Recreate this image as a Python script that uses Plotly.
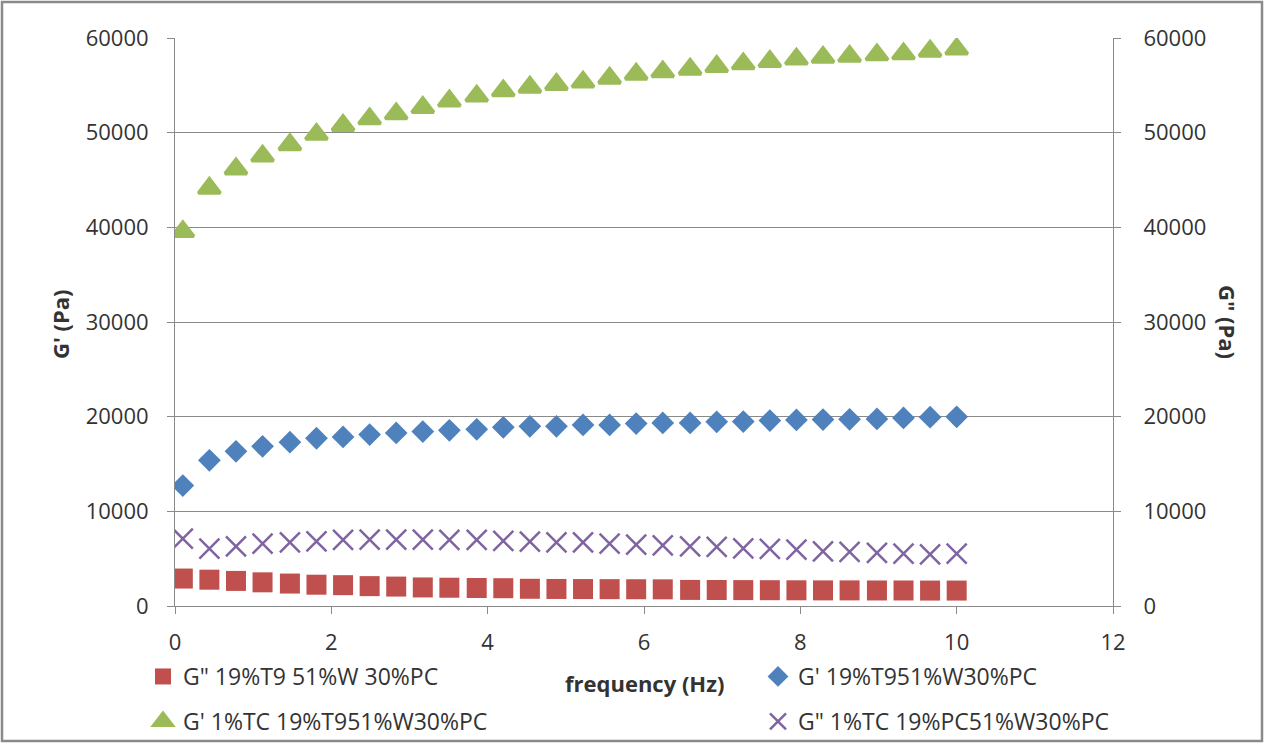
import plotly.graph_objects as go

# frequency (Hz)
freq = [0.1, 0.44, 0.78, 1.12, 1.47, 1.81, 2.15, 2.49, 2.83, 3.17,
        3.51, 3.86, 4.2, 4.54, 4.88, 5.22, 5.56, 5.9, 6.24, 6.59,
        6.93, 7.27, 7.61, 7.95, 8.29, 8.63, 8.98, 9.32, 9.66, 10.0]

# G'' 19%T9 51%W 30%PC (Pa)
g2_t9 = [2900, 2780, 2650, 2500, 2370, 2250, 2200, 2100, 2050, 1960,
         1930, 1900, 1880, 1820, 1800, 1790, 1780, 1770, 1760, 1700,
         1690, 1680, 1670, 1660, 1650, 1650, 1640, 1640, 1630, 1630]

# G' 19%T951%W30%PC (Pa)
g1_t9 = [12720, 15390, 16340, 16870, 17300, 17720, 17860, 18110, 18280, 18420,
         18560, 18670, 18880, 18980, 18980, 19130, 19130, 19270, 19340, 19340,
         19450, 19480, 19590, 19660, 19690, 19720, 19760, 19870, 19940, 19980]

# G' 1%TC 19%T951%W30%PC (Pa)
g1_tc = [39550, 44130, 46170, 47530, 48730, 49820, 50770, 51460, 51990, 52660,
         53350, 53870, 54420, 54810, 55100, 55340, 55760, 56180, 56430, 56710,
         56990, 57270, 57520, 57770, 57960, 58060, 58220, 58330, 58610, 58840]

# G'' 1%TC 19%PC51%W30%PC (Pa)
g2_tc = [7110, 6060, 6300, 6590, 6720, 6830, 6980, 7010, 7010, 7010,
         6980, 6980, 6870, 6800, 6720, 6720, 6590, 6480, 6410, 6300,
         6240, 6090, 6030, 5950, 5770, 5710, 5600, 5530, 5450, 5530]

x_ticks = [0, 2, 4, 6, 8, 10, 12]
y_ticks = [0, 10000, 20000, 30000, 40000, 50000, 60000]

W, H = 1264, 743
L, R, T, B = 175, 151, 38, 137
PW, PH = W - L - R, H - T - B

FONT = "Open Sans"
TXT = "#333333"
GRID = "#8a8a8a"

fig = go.Figure()
fig.add_trace(go.Scatter(
    x=freq, y=g2_t9, mode="markers", name='G" 19%T9 51%W 30%PC',
    marker=dict(symbol="square", size=20, color="#C0504D"),
    yaxis="y2", legend="legend", legendgroup="a"))
fig.add_trace(go.Scatter(
    x=freq, y=g1_t9, mode="markers", name="G' 19%T951%W30%PC",
    marker=dict(symbol="diamond", size=17.5, color="#4F81BD"),
    legend="legend2", legendgroup="b"))
fig.add_trace(go.Scatter(
    x=freq, y=g1_tc, mode="markers", name="G' 1%TC 19%T951%W30%PC",
    marker=dict(symbol="triangle-up", size=19, color="#9BBB59",
                line=dict(color="#9BBB59", width=3.5)),
    legend="legend", legendgroup="c"))
fig.add_trace(go.Scatter(
    x=freq, y=g2_tc, mode="markers", name='G" 1%TC 19%PC51%W30%PC',
    marker=dict(symbol="x-thin", size=20, color="#8064A2",
                line=dict(color="#8064A2", width=2.5)),
    yaxis="y2", legend="legend2", legendgroup="d"))

axis_common = dict(
    showline=True, linecolor=GRID, linewidth=1,
    ticks="outside", ticklen=7, tickcolor=GRID, tickwidth=1,
    tickfont=dict(family=FONT, size=22, color=TXT),
    zeroline=False,
)

fig.update_layout(
    width=W, height=H,
    margin=dict(l=L, r=R, t=T, b=B, autoexpand=False),
    paper_bgcolor="white", plot_bgcolor="white",
    font=dict(family=FONT, color=TXT),
    xaxis=dict(range=[0, 12], tickvals=x_ticks, showgrid=False,
               ticklabelstandoff=10, **axis_common),
    yaxis=dict(range=[0, 60000], tickvals=y_ticks, tickformat="d",
               showgrid=True, gridcolor=GRID, gridwidth=1,
               ticklabelstandoff=14, **axis_common),
    yaxis2=dict(range=[0, 60000], tickvals=y_ticks, tickformat="d",
                overlaying="y", side="right", showgrid=False,
                ticklabelstandoff=18, **axis_common),
    legend=dict(xref="container", yref="container",
                x=143 / W, y=1 - 655 / H, xanchor="left", yanchor="top",
                orientation="v", tracegroupgap=12, itemwidth=30,
                bgcolor="rgba(0,0,0,0)",
                font=dict(family=FONT, size=23, color=TXT)),
    legend2=dict(xref="container", yref="container",
                 x=758 / W, y=1 - 655 / H, xanchor="left", yanchor="top",
                 orientation="v", tracegroupgap=12, itemwidth=30,
                 bgcolor="rgba(0,0,0,0)",
                 font=dict(family=FONT, size=23, color=TXT)),
    annotations=[
        dict(text="<b>frequency (Hz)</b>", xref="paper", yref="paper",
             x=0.5, y=(T + PH - 683) / PH, xanchor="center", yanchor="middle",
             showarrow=False, font=dict(family=FONT, size=22, color=TXT)),
        dict(text="<b>G' (Pa)</b>", xref="paper", yref="paper",
             x=(60 - L) / PW, y=(T + PH - 324) / PH, xanchor="center", yanchor="middle",
             textangle=-90, showarrow=False,
             font=dict(family=FONT, size=22, color=TXT)),
        dict(text='<b>G" (Pa)</b>', xref="paper", yref="paper",
             x=(1228 - L) / PW, y=(T + PH - 322) / PH, xanchor="center", yanchor="middle",
             textangle=90, showarrow=False,
             font=dict(family=FONT, size=22, color=TXT)),
    ],
    shapes=[
        dict(type="rect", xref="paper", yref="paper",
             x0=(2 - L) / PW, x1=(1262 - L) / PW,
             y0=(T + PH - 741) / PH, y1=(T + PH - 2) / PH,
             line=dict(color="#8a8a8a", width=2.5), fillcolor="rgba(0,0,0,0)",
             layer="below"),
    ],
)

fig.write_html("out.html")
